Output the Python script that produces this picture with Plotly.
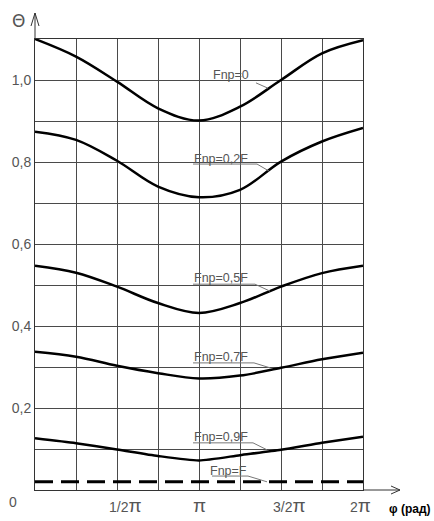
import numpy as np
import plotly.graph_objects as go

# ---- data ----
phi_quarters = [0, 1, 2, 3, 4, 5, 6, 7, 8]          # φ in units of π/4
phi = [k * np.pi / 4 for k in phi_quarters]

theta_f0 = [1.100, 1.057, 0.996, 0.931, 0.901, 0.935, 1.000, 1.065, 1.097]
theta_f02 = [0.874, 0.854, 0.803, 0.740, 0.714, 0.732, 0.801, 0.850, 0.883]
theta_f05 = [0.547, 0.530, 0.496, 0.456, 0.432, 0.456, 0.496, 0.529, 0.547]
theta_f07 = [0.337, 0.325, 0.303, 0.285, 0.272, 0.279, 0.298, 0.319, 0.335]
theta_f09 = [0.126, 0.114, 0.099, 0.083, 0.072, 0.085, 0.098, 0.115, 0.130]
theta_f1 = [0.020, 0.020, 0.020, 0.020, 0.020, 0.020, 0.020, 0.020, 0.020]

series_names = ["Fnp=0", "Fnp=0,2F", "Fnp=0,5F", "Fnp=0,7F", "Fnp=0,9F", "Fnp=F"]

y_tick_vals = [0.2, 0.4, 0.6, 0.8, 1.0]
y_tick_text = ["0,2", "0,4", "0,6", "0,8", "1,0"]
x_label_vals = [np.pi / 2, np.pi, 3 * np.pi / 2, 2 * np.pi]
x_label_text = ["1/2", "", "3/2", "2"]

# ---- figure ----
W, H = 434, 521
L, R, T, B = 35, 71, 39, 31
pw, ph = W - L - R, H - T - B
GRID = "#4a4a4a"
TXT = "#555555"
FONT = "Liberation Sans"


def px(x):
    return (x - L) / pw


def py(y):
    return (H - B - y) / ph


fig = go.Figure()

curves = [theta_f0, theta_f02, theta_f05, theta_f07, theta_f09]
smooth = [1.0, 1.0, 1.0, 1.0, 0.6]
for name, vals, sm in zip(series_names[:5], curves, smooth):
    fig.add_trace(go.Scatter(x=phi, y=vals, mode="lines", name=name,
                             line=dict(color="black", width=2.5, shape="spline", smoothing=sm),
                             hoverinfo="skip"))
fig.add_trace(go.Scatter(x=phi, y=theta_f1, mode="lines", name=series_names[5],
                         line=dict(color="black", width=3, dash="18px,8px"),
                         hoverinfo="skip"))

# curve labels with underline + leader line (data coords)
labels = [
    ("Fnp=0", 3.754, 1.012, None, (4.463, 0.980), (4.233, 0.993)),
    ("Fnp=0,2F", 3.563, 0.808, (3.027, 4.253, 0.795), (4.482, 0.778), None),
    ("Fnp=0,5F", 3.563, 0.516, (3.027, 4.214, 0.502), (4.502, 0.485), None),
    ("Fnp=0,7F", 3.563, 0.324, (3.027, 4.195, 0.310), (4.502, 0.298), None),
    ("Fnp=0,9F", 3.563, 0.129, (3.027, 4.176, 0.115), (4.444, 0.098), None),
    ("Fnp=F", 3.716, 0.047, (3.391, 4.080, 0.034), (4.444, 0.020), None),
]
for text, tx, ty, ul, lend, lstart in labels:
    fig.add_annotation(x=tx, y=ty, xref="x", yref="y", text=text, showarrow=False,
                       font=dict(family=FONT, size=12.5, color=TXT), xanchor="center", yanchor="middle")
    if ul is not None:
        fig.add_shape(type="line", xref="x", yref="y", x0=ul[0], x1=ul[1], y0=ul[2], y1=ul[2],
                      line=dict(color="#777777", width=1))
        start = (ul[1], ul[2])
    else:
        start = lstart
    fig.add_shape(type="line", xref="x", yref="y", x0=start[0], y0=start[1], x1=lend[0], y1=lend[1],
                  line=dict(color="#777777", width=1))

# x labels
for v, t in zip(x_label_vals, x_label_text):
    shift = 8 if t in ("1/2", "3/2") else (-3 if t == "2" else 0)
    fig.add_annotation(x=v, y=py(506), xref="x", yref="paper", xshift=shift,
                       text=t + "<span style='font-size:19px'>π</span>", showarrow=False,
                       font=dict(family=FONT, size=14, color=TXT), xanchor="center", yanchor="middle")

fig.add_annotation(x=px(13), y=py(502), xref="paper", yref="paper", text="0", showarrow=False,
                   xanchor="center", yanchor="middle",
                   font=dict(family=FONT, size=14, color=TXT))
fig.add_annotation(x=px(410), y=py(509), xref="paper", yref="paper", text="<b>φ (рад)</b>",
                   xanchor="center", yanchor="middle",
                   showarrow=False, font=dict(family=FONT, size=12, color="black"))
fig.add_annotation(x=px(18), y=py(21), xref="paper", yref="paper", text="Θ", showarrow=False,
                   xanchor="center", yanchor="middle",
                   font=dict(family="DejaVu Sans", size=17, color=TXT))

# axis arrows
AX = "#333333"
fig.add_shape(type="line", xref="paper", yref="paper", x0=0, y0=1, x1=0, y1=py(13),
              line=dict(color=AX, width=1))
fig.add_shape(type="path", xref="paper", yref="paper",
              path=f"M {px(31)},{py(26)} L {px(35)},{py(13)} L {px(39)},{py(26)}",
              line=dict(color=AX, width=1))
fig.add_shape(type="line", xref="paper", yref="paper", x0=1, y0=0, x1=px(400), y1=0,
              line=dict(color=AX, width=1))
fig.add_shape(type="path", xref="paper", yref="paper",
              path=f"M {px(391)},{py(486)} L {px(400)},{py(490)} L {px(391)},{py(494)}",
              line=dict(color=AX, width=1))

fig.update_layout(
    width=W, height=H,
    margin=dict(l=L, r=R, t=T, b=B),
    plot_bgcolor="white", paper_bgcolor="white",
    showlegend=False,
    xaxis=dict(range=[0, 2 * np.pi], tick0=0, dtick=np.pi / 4, showticklabels=False,
               showgrid=True, gridcolor=GRID, gridwidth=1, zeroline=False,
               showline=True, mirror=True, linecolor=AX, linewidth=1, ticks=""),
    yaxis=dict(range=[0, 1.1], tickvals=y_tick_vals, ticktext=y_tick_text,
               showgrid=True, gridcolor=GRID, gridwidth=1, zeroline=False,
               minor=dict(dtick=0.1, tick0=0, showgrid=True, gridcolor=GRID, gridwidth=1, ticks=""),
               showline=True, mirror=True, linecolor=AX, linewidth=1, ticks="",
               tickfont=dict(family=FONT, size=14, color=TXT)),
)

fig.write_html("out.html", config={"displayModeBar": False},
               post_script="document.body.style.margin='0';")
